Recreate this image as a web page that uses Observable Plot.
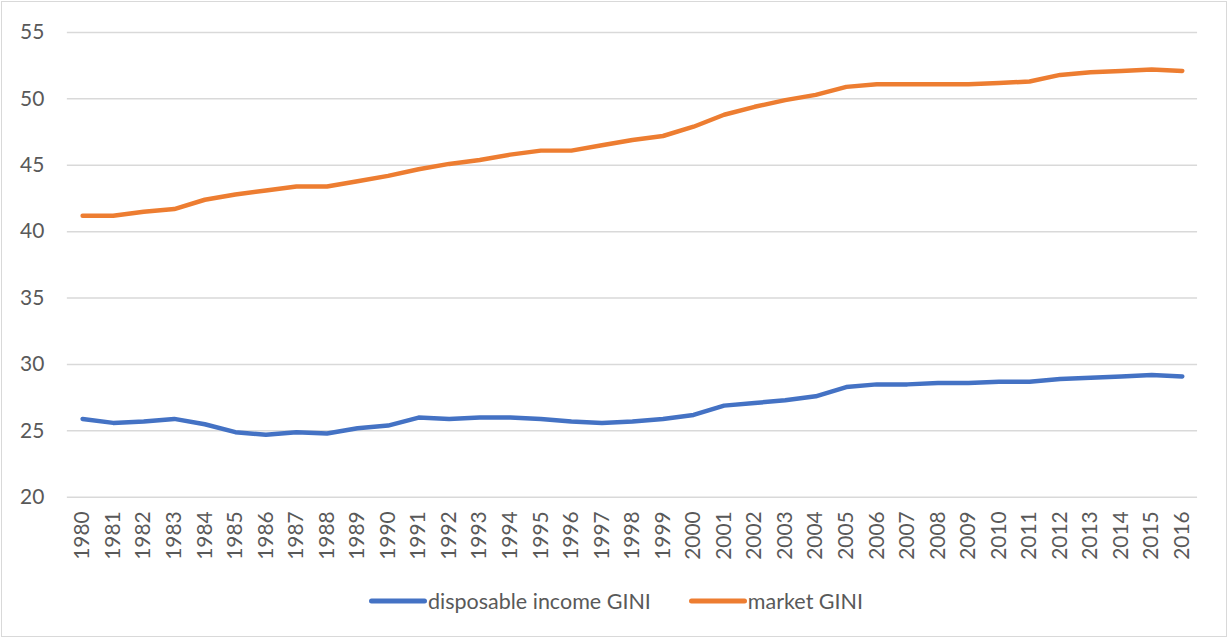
<!DOCTYPE html>
<html>
<head>
<meta charset="utf-8">
<script src="https://cdn.jsdelivr.net/npm/d3@7"></script>
<script src="https://cdn.jsdelivr.net/npm/@observablehq/plot@0.6"></script>
<style>
  html, body { margin: 0; padding: 0; background: #fff; }
  #frame {
    position: absolute; left: 1px; top: 1px; width: 1226px; height: 636px;
    box-sizing: border-box; border: 1px solid #d9d9d9; background: #fff;
  }
  #chart { position: absolute; left: -1px; top: -1px; }
  #legend {
    position: absolute; left: 0; width: 1228px; top: 585px; height: 28px;
    display: flex; justify-content: center; align-items: center; gap: 38px;
    font-family: Lato, "Open Sans", sans-serif; font-size: 21.5px; color: #595959;
  }
  .item { display: flex; align-items: center; gap: 1px; }
</style>
</head>
<body>
<div id="frame">
  <div id="chart"></div>
  <div id="legend"></div>
</div>
<script>
const years = [1980,1981,1982,1983,1984,1985,1986,1987,1988,1989,
               1990,1991,1992,1993,1994,1995,1996,1997,1998,1999,
               2000,2001,2002,2003,2004,2005,2006,2007,2008,2009,
               2010,2011,2012,2013,2014,2015,2016];
const seriesNames = ["disposable income GINI", "market GINI"];
const seriesColors = ["#4472C4", "#ED7D31"];
const disposableGini = [25.9,25.6,25.7,25.9,25.5,24.9,24.7,24.9,24.8,25.2,
                        25.4,26.0,25.9,26.0,26.0,25.9,25.7,25.6,25.7,25.9,
                        26.2,26.9,27.1,27.3,27.6,28.3,28.5,28.5,28.6,28.6,
                        28.7,28.7,28.9,29.0,29.1,29.2,29.1];
const marketGini = [41.2,41.2,41.5,41.7,42.4,42.8,43.1,43.4,43.4,43.8,
                    44.2,44.7,45.1,45.4,45.8,46.1,46.1,46.5,46.9,47.2,
                    47.9,48.8,49.4,49.9,50.3,50.9,51.1,51.1,51.1,51.1,
                    51.2,51.3,51.8,52.0,52.1,52.2,52.1];
const yTicks = [20,25,30,35,40,45,50,55];

const rows = [];
years.forEach((yr, i) => {
  rows.push({year: yr, value: disposableGini[i], series: seriesNames[0]});
});
years.forEach((yr, i) => {
  rows.push({year: yr, value: marketGini[i], series: seriesNames[1]});
});

const chart = Plot.plot({
  width: 1228,
  height: 570,
  marginLeft: 66,
  marginRight: 29,
  marginTop: 31,
  marginBottom: 73,
  style: {fontFamily: "Lato, 'Open Sans', sans-serif", fontSize: "21px", color: "#595959", background: "transparent", overflow: "visible"},
  x: {type: "point", domain: years, padding: 0.5, round: false, label: null},
  y: {domain: [20, 55], label: null},
  color: {domain: seriesNames, range: seriesColors},
  marks: [
    Plot.gridY(yTicks, {stroke: "#d9d9d9", strokeOpacity: 1, strokeWidth: 1.5}),
    Plot.axisY(yTicks, {tickSize: 0, tickPadding: 23, label: null, fill: "#595959"}),
    Plot.axisX({tickSize: 0, tickRotate: -90, tickPadding: 14, label: null, fill: "#595959", tickFormat: d => String(d)}),
    Plot.line(rows, {x: "year", y: "value", z: "series", stroke: "series", strokeWidth: 4.5, strokeLinecap: "round", strokeLinejoin: "round"})
  ]
});
document.getElementById("chart").appendChild(chart);

const legend = document.getElementById("legend");
seriesNames.forEach((name, i) => {
  const item = document.createElement("div");
  item.className = "item";
  item.innerHTML = `<svg width="58" height="10"><line x1="2.5" y1="5" x2="55.5" y2="5" stroke="${seriesColors[i]}" stroke-width="5" stroke-linecap="round"/></svg><span>${name}</span>`;
  legend.appendChild(item);
});
</script>
</body>
</html>
